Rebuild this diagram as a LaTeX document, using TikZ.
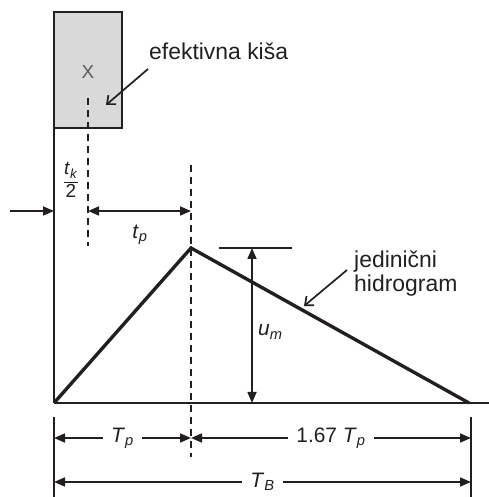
\documentclass[tikz,border=0pt]{standalone}
\usepackage{fontspec}
\setmainfont{Liberation Sans}
\usepackage{xcolor}
\usepackage{tikz}
\usetikzlibrary{positioning, arrows.meta}
\definecolor{ink}{RGB}{35,31,32}
\definecolor{shade}{RGB}{217,217,217}
\definecolor{pencil}{RGB}{90,90,90}
\newcommand{\sym}[2]{\textit{#1}\textsubscript{\textit{#2}}}

\begin{document}
\begin{tikzpicture}[x=1bp, y=1bp, font=\fontsize{23}{24}\selectfont]
  \tikzset{
    axis/.style={draw=ink, line width=1.7pt},
    guide/.style={draw=ink, line width=1.7pt, dash pattern=on 7bp off 5bp},
    uh/.style={draw=ink, line width=3.4pt, line join=miter},
    dim/.style={draw=ink, line width=1.7pt,
      {Triangle[length=11bp, width=9bp]}-{Triangle[length=11bp, width=9bp]}},
    lead/.style={draw=ink, line width=1.7pt, -{Triangle[length=11bp, width=9bp]}},
    ptr/.style={draw=ink, line width=1.7pt, -{Straight Barb[length=7bp, width=12bp]}},
    lbl/.style={text=ink, inner sep=1pt},
    sym/.style={text=ink, font=\fontsize{21}{24}\selectfont, fill=white, inner xsep=8bp, inner ysep=1pt}}
  \useasboundingbox (0,0) rectangle (489,497);

  % --- base points of the hydrograph
  \coordinate (O) at (54,94);
  \coordinate (peak) at (191,249);
  \coordinate (end) at (469,94);
  \coordinate (far) at (489,94);

  % --- effective rain block and its centroid
  \node[draw=ink, line width=2pt, fill=shade, minimum width=68bp, minimum height=116bp,
        inner sep=0pt, outer sep=0pt] (rain) at (88,427) {};
  \node[text=pencil, font=\fontsize{19}{20}\selectfont] (xmark) at (88,425) {X};
  \coordinate (ctop) at (88,399);
  \coordinate (cbot) at (88,251);
  \draw[guide] (ctop) -- (cbot);

  \node[lbl, anchor=base west] (rainlbl) at (148,437) {efektivna kiša};
  \coordinate (rainhit) at (106,392);
  \draw[ptr] (148,428) -- (rainhit);

  % --- axes and the unit hydrograph
  \draw[axis] (rain.south west) -- (O);
  \draw[axis] (O) -- (far);
  \draw[uh] (O) -- (peak) -- (end);

  \coordinate (ptop) at (191,332);
  \coordinate (pbot) at (191,40);
  \draw[guide] (ptop) -- (pbot);

  \node[lbl, anchor=west, align=left] (uhlbl) at (353,223.5) {jedinični\\hidrogram};
  \coordinate (uhhit) at (304,191);
  \draw[ptr] (347,227) -- (uhhit);

  % --- lag: t_k/2 and t_p
  \coordinate (tin) at (10,286);
  \coordinate (taxis) at (54,286);
  \coordinate (tc) at (88,286);
  \coordinate (tpk) at (191,286);
  \draw[lead] (tin) -- (taxis);
  \draw[dim] (tc) -- (tpk);
  \node[lbl, font=\fontsize{19}{20}\selectfont] (half) at (71,317)
    {$\displaystyle\frac{\mbox{\sym{t}{k}}}{\mbox{2}}$};
  \node[lbl, font=\fontsize{21}{24}\selectfont] (tplbl) at (140,262) {\sym{t}{p}};

  % --- peak ordinate
  \coordinate (ml) at (219,249);
  \coordinate (mr) at (292,249);
  \coordinate (mtop) at (252,249);
  \coordinate (mbot) at (252,94);
  \draw[axis] (ml) -- (mr);
  \draw[dim] (mtop) -- (mbot);
  \node[lbl, font=\fontsize{21}{24}\selectfont, anchor=west] (umlbl) at (257,165) {\sym{u}{m}};

  % --- time base dimensions
  \coordinate (bl) at (54,80);
  \coordinate (bl0) at (54,0);
  \coordinate (br) at (471,80);
  \coordinate (br0) at (471,0);
  \draw[axis] (bl) -- (bl0);
  \draw[axis] (br) -- (br0);

  \draw[dim] (54,59) -- node[sym] (Tplbl) {\sym{T}{p}} (191,59);
  \draw[dim] (191,59) -- node[sym] (Trlbl) {1.67 \sym{T}{p}} (471,59);
  \draw[dim] (54,15) -- node[sym] (TBlbl) {\sym{T}{B}} (471,15);
\end{tikzpicture}
\end{document}
